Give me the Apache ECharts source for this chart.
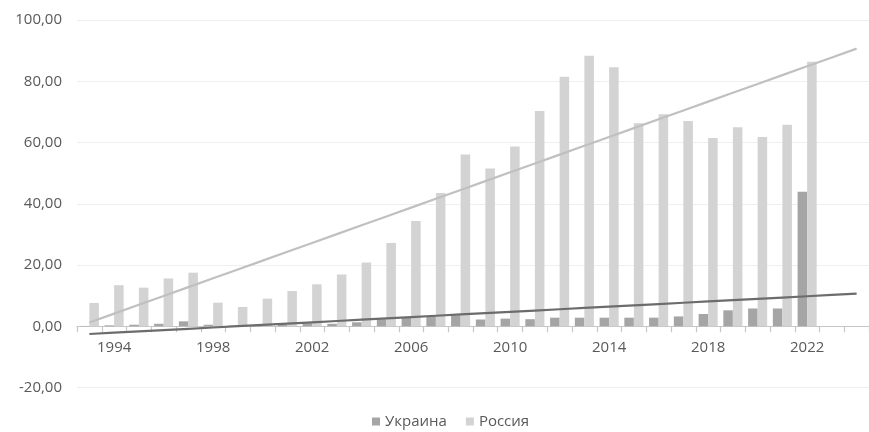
<!DOCTYPE html>
<html>
<head>
<meta charset="utf-8">
<script src="https://cdn.jsdelivr.net/npm/echarts@6/dist/echarts.min.js"></script>
<style>html,body{margin:0;padding:0;background:#fff}#c{width:869px;height:432px}</style>
</head>
<body>
<div id="c"></div>
<script>
// Categories (1993–2024; 2023–2024 only carry the trend-line forecast)
const years = ['1993','1994','1995','1996','1997','1998','1999','2000','2001','2002','2003','2004','2005','2006','2007','2008','2009','2010','2011','2012','2013','2014','2015','2016','2017','2018','2019','2020','2021','2022','2023','2024'];
const shownLabels = ['1994','1998','2002','2006','2010','2014','2018','2022'];
const yTicks = [-20, 0, 20, 40, 60, 80, 100];

const ukraine = [0.1,0.3,0.5,0.8,1.6,0.5,0.2,0.2,0.5,1.0,0.8,1.3,2.3,3.0,3.4,3.6,2.2,2.5,2.3,2.8,2.8,2.8,2.8,2.8,3.2,4.0,5.2,5.8,5.8,43.9];
const russia  = [7.6,13.4,12.6,15.6,17.5,7.7,6.3,9.0,11.5,13.7,16.9,20.8,27.2,34.4,43.5,56.1,51.5,58.7,70.3,81.5,88.3,84.6,66.3,69.2,67.0,61.5,65.0,61.8,65.8,86.4];

// Linear trend (least squares), extended to all categories
function trend(vals, n) {
  const m = vals.length;
  let sx = 0, sy = 0, sxy = 0, sxx = 0;
  vals.forEach((v, i) => { sx += i; sy += v; sxy += i * v; sxx += i * i; });
  const b = (m * sxy - sx * sy) / (m * sxx - sx * sx);
  const a = (sy - b * sx) / m;
  return Array.from({length: n}, (_, i) => a + b * i);
}

const W = 869, H = 432;
const gridTop = 20, gridBottom = 44.5;
const yMin = yTicks[0], yMax = yTicks[yTicks.length - 1];
const plotH = H - gridTop - gridBottom;
const zeroOffset = plotH * (0 - yMin) / (yMax - yMin);

const chart = echarts.init(document.getElementById('c'));
const font = '"Open Sans", "Noto Sans", sans-serif';
chart.setOption({
  animation: false,
  backgroundColor: '#ffffff',
  grid: { left: 77, right: 0, top: gridTop, bottom: gridBottom },
  legend: {
    data: ['Украина', 'Россия'],
    left: 367, top: 409,
    itemWidth: 8, itemHeight: 8, itemGap: 19,
    icon: 'rect',
    textStyle: { fontFamily: font, fontSize: 15, color: '#595959' }
  },
  xAxis: {
    type: 'category',
    data: years,
    position: 'bottom',
    offset: -zeroOffset,
    axisLine: { onZero: false, lineStyle: { color: '#c6c6c6', width: 1.2 } },
    axisTick: { show: true, interval: 0, length: 6, lineStyle: { color: '#c6c6c6', width: 1.2 } },
    axisLabel: {
      interval: (i, v) => shownLabels.includes(v),
      fontFamily: font, fontSize: 15, color: '#595959', margin: 14
    },
    splitLine: { show: false }
  },
  yAxis: {
    type: 'value',
    min: yMin, max: yMax, interval: 20,
    axisLine: { show: false },
    axisTick: { show: false },
    axisLabel: {
      fontFamily: font, fontSize: 15, color: '#595959', margin: 15,
      formatter: v => v.toFixed(2).replace('.', ',')
    },
    splitLine: { lineStyle: { color: '#efefef', width: 1 } }
  },
  series: [
    { name: 'Украина', type: 'bar', data: ukraine, itemStyle: { color: '#a5a5a5' },
      barGap: '0%', barCategoryGap: '23%', z: 2 },
    { name: 'Россия', type: 'bar', data: russia, itemStyle: { color: '#d3d3d3' }, z: 2 },
    { name: 'trendRU', type: 'line', data: trend(russia, years.length), symbol: 'none',
      lineStyle: { color: '#c0c0c0', width: 2.2 }, z: 3, silent: true },
    { name: 'trendUA', type: 'line', data: trend(ukraine, years.length), symbol: 'none',
      lineStyle: { color: '#6c6c6c', width: 2.2 }, z: 3, silent: true }
  ]
});
</script>
</body>
</html>
